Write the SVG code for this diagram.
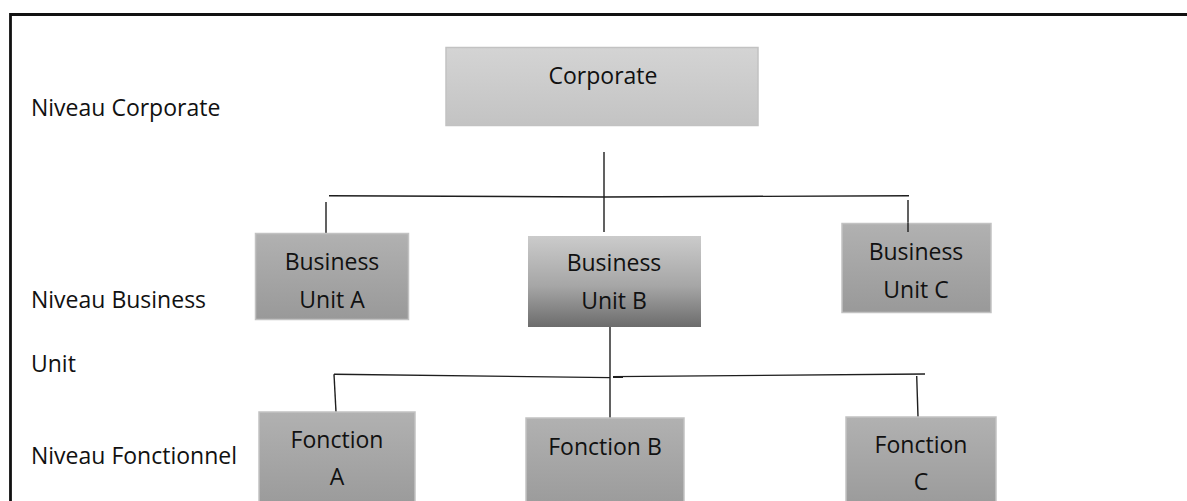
<svg xmlns="http://www.w3.org/2000/svg" width="1187" height="501" viewBox="0 0 1187 501">
<defs>
<linearGradient id="gCorp" x1="0" y1="0" x2="0" y2="1"><stop offset="0" stop-color="#d4d4d4"/><stop offset="1" stop-color="#c3c3c3"/></linearGradient>
<linearGradient id="gGray" x1="0" y1="0" x2="0" y2="1"><stop offset="0" stop-color="#b1b1b1"/><stop offset="1" stop-color="#999999"/></linearGradient>
<linearGradient id="gDark" x1="0" y1="0" x2="0" y2="1"><stop offset="0" stop-color="#cbcbcb"/><stop offset="0.55" stop-color="#a6a6a6"/><stop offset="1" stop-color="#6c6c6c"/></linearGradient>
</defs>
<style>
text{font-family:"Open Sans","Noto Sans",sans-serif;font-size:23px;fill:#111}
.c{text-anchor:middle}
.box{stroke:#c2c2c2;stroke-width:1.5}
.ln{stroke:#1e1e1e;stroke-width:1.4;fill:none}
.frame{stroke:#111;stroke-width:2.8;fill:none}
</style>
<rect width="1187" height="501" fill="#ffffff"/>
<g id="frame">
<path class="frame" d="M10.5,505 V14.5 H1190"/>
</g>
<g id="labels">
<text x="31" y="116">Niveau Corporate</text>
<text x="31" y="308">Niveau Business</text>
<text x="31" y="372">Unit</text>
<text x="31" y="464">Niveau Fonctionnel</text>
</g>
<g id="connectors">
<line class="ln" x1="604" y1="152" x2="604" y2="232"/>
<polyline class="ln" points="329,195.7 604,197 909,195.7"/>
<line class="ln" x1="326" y1="202" x2="326" y2="234"/>
<line class="ln" x1="908" y1="200" x2="908" y2="224"/>
<line class="ln" x1="610" y1="327" x2="610" y2="418"/>
<polyline class="ln" points="334,374.3 610,377.6"/>
<polyline class="ln" points="613,376.6 925,374"/>
<line class="ln" x1="613" y1="377.3" x2="623" y2="377.3" stroke-width="1.8"/>
<line class="ln" x1="334" y1="374.3" x2="336" y2="412"/>
<line class="ln" x1="916.7" y1="376" x2="918" y2="417"/>
</g>
<g id="corporate">
<rect class="box" x="446" y="47.5" width="312" height="78" fill="url(#gCorp)" stroke="#b5b5b5"/>
<text class="c" x="603" y="84">Corporate</text>
</g>
<g id="bu-a">
<rect class="box" x="255.5" y="233.5" width="153" height="86" fill="url(#gGray)"/>
<text class="c" x="332" y="270">Business</text>
<text class="c" x="332" y="308">Unit A</text>
</g>
<g id="bu-b">
<rect x="528" y="236" width="173" height="91" fill="url(#gDark)"/>
<text class="c" x="614" y="271">Business</text>
<text class="c" x="614" y="309">Unit B</text>
</g>
<g id="bu-c">
<rect class="box" x="842" y="223.5" width="149" height="89" fill="url(#gGray)"/>
<line class="ln" x1="908" y1="223" x2="908" y2="232"/>
<text class="c" x="916" y="260">Business</text>
<text class="c" x="916" y="298">Unit C</text>
</g>
<g id="fonction-a">
<rect class="box" x="259" y="412" width="156" height="100" fill="url(#gGray)"/>
<text class="c" x="337" y="448">Fonction</text>
<text class="c" x="337" y="485">A</text>
</g>
<g id="fonction-b">
<rect class="box" x="526" y="418" width="158" height="95" fill="url(#gGray)"/>
<text class="c" x="605" y="455">Fonction B</text>
</g>
<g id="fonction-c">
<rect class="box" x="846" y="417" width="150" height="95" fill="url(#gGray)"/>
<text class="c" x="921" y="453">Fonction</text>
<text class="c" x="921" y="490">C</text>
</g>
</svg>
